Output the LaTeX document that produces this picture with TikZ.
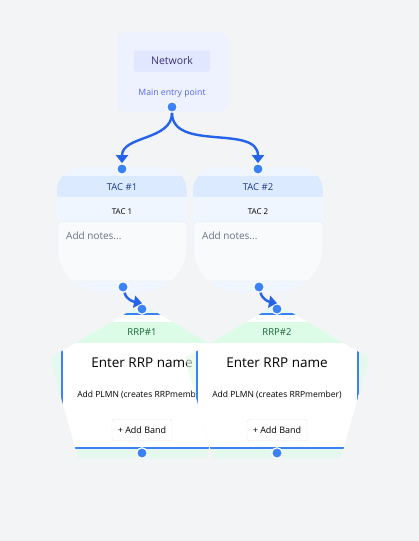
\documentclass[tikz,border=0pt]{standalone}
\usepackage{fontspec}
\setmainfont{Open Sans}
\usepackage{tikz}
\usetikzlibrary{arrows.meta,positioning}

\definecolor{canvas}{HTML}{F3F4F6}
\definecolor{netfill}{HTML}{EEF2FE}
\definecolor{netlabel}{HTML}{E0E7FF}
\definecolor{netink}{HTML}{3B2F7A}
\definecolor{netsub}{HTML}{5468E8}
\definecolor{handleblue}{HTML}{3B82F6}
\definecolor{flowblue}{HTML}{2563EB}
\definecolor{tacfill}{HTML}{EFF6FF}
\definecolor{tachead}{HTML}{DBEAFE}
\definecolor{tacink}{HTML}{1E3A8A}
\definecolor{notesfill}{HTML}{F8FAFC}
\definecolor{notesline}{HTML}{E2E8F0}
\definecolor{notesink}{HTML}{6B7280}
\definecolor{rrpfill}{HTML}{DCFCE7}
\definecolor{rrpink}{HTML}{166534}
\definecolor{cardline}{HTML}{3B82F6}
\definecolor{btnline}{HTML}{D1D5DB}

\begin{document}
\begin{tikzpicture} [x=1pt, y=-1pt,
	   handle/.style = {circle, minimum size=10.5pt, inner sep=0pt,
	                    fill=handleblue, draw=white, line width=1.2pt},
	   flow/.style = {draw=flowblue, line width=2.4pt,
	                  -{Triangle[width=12pt,length=8pt]}},
	   caption/.style 2 args = {font=\fontsize{#1}{#1}\selectfont, text=#2, inner sep=0pt}]
	%% Canvas
	\fill[canvas] (0,0) rectangle (419,541);

	%% Network
	\node [rectangle, rounded corners=10pt, fill=netfill,
	       minimum width=111pt, minimum height=80pt] (net) at (172.5,72) {};
	\node [rectangle, rounded corners=2pt, fill=netlabel, minimum width=76pt,
	       minimum height=21pt, caption={10.5}{netink}] (netname) at (172,61) {Network};
	\node [caption={8.7}{netsub}, below=28pt of netname.center] (netnote) {Main entry point};
	\node [handle] (net-out) at (172,107) {};

	%% TACs
	\foreach \cx/\i in {122/1, 258/2} {
		\begin{scope}
			\clip [rounded corners=24pt] (\cx-65,230) -- (\cx-65,167) -- (\cx+65,167) -- (\cx+65,230)
			      [rounded corners=46pt] -- (\cx+65,292) -- (\cx-65,292) -- cycle;
			\fill [tacfill] (\cx-65,167) rectangle (\cx+65,292);
			\fill [tachead] (\cx-65,176) rectangle (\cx+65,197);
			\draw [notesline, fill=notesfill, rounded corners=3pt] (\cx-64,221.5) rectangle (\cx+65,281);
		\end{scope}
		\node [caption={9.5}{tacink}] (tac\i-title) at (\cx,187) {TAC \#\i};
		\node [caption={8}{black}] (tac\i-name) at (\cx,212) {TAC \i};
		\node [caption={10}{notesink}, anchor=west] (tac\i-notes) at (\cx-56,236) {Add notes...};
		\node [handle] (tac\i-in) at (\cx,169) {};
		\node [handle] (tac\i-out) at (\cx+1,287) {};
	}

	%% RRPs
	\foreach \cx/\i in {142/1, 277/2} {
		\fill [rrpfill, fill opacity=0.6] (\cx,304) -- (\cx+92,358) -- (\cx+64,458)
		      -- (\cx-64,458) -- (\cx-92,358) -- cycle;
		\begin{scope}
			\clip (\cx,304) -- (\cx+92,358) -- (\cx+64,458) -- (\cx-64,458) -- (\cx-92,358) -- cycle;
			\fill [white] (\cx-80,314) rectangle (\cx+81,448);
			\fill [rrpfill] (\cx-81,322) rectangle (\cx+81,343);
			\draw [cardline, line width=1.6pt] (\cx-80,314) rectangle (\cx+81,448);
		\end{scope}
		\node [caption={9.5}{rrpink}] (rrp\i-title) at (\cx,332.5) {RRP\#\i};
		\node [caption={13.5}{black}] (rrp\i-name) at (\cx,363) {Enter RRP name};
		\node [caption={8.5}{black}] (rrp\i-plmn) at (\cx,395) {Add PLMN (creates RRPmember)};
		\node [rectangle, draw=btnline, dash pattern=on 1pt off 1pt, fill=white,
		       rounded corners=2pt, minimum width=60pt, minimum height=21pt,
		       caption={9}{black}] (rrp\i-band) at (\cx,430) {+ Add Band};
		\node [handle] (rrp\i-in) at (\cx,309) {};
		\node [handle] (rrp\i-out) at (\cx,453) {};
	}

	%% Links
	\draw [flow] (net-out) to[out=-90, in=90] (tac1-in);
	\draw [flow] (net-out) to[out=-90, in=90] (tac2-in);
	\draw [flow] (tac1-out) to[out=-75, in=170] (rrp1-in.north);
	\draw [flow] (tac2-out) to[out=-75, in=170] (rrp2-in.north);
\end{tikzpicture}
\end{document}
